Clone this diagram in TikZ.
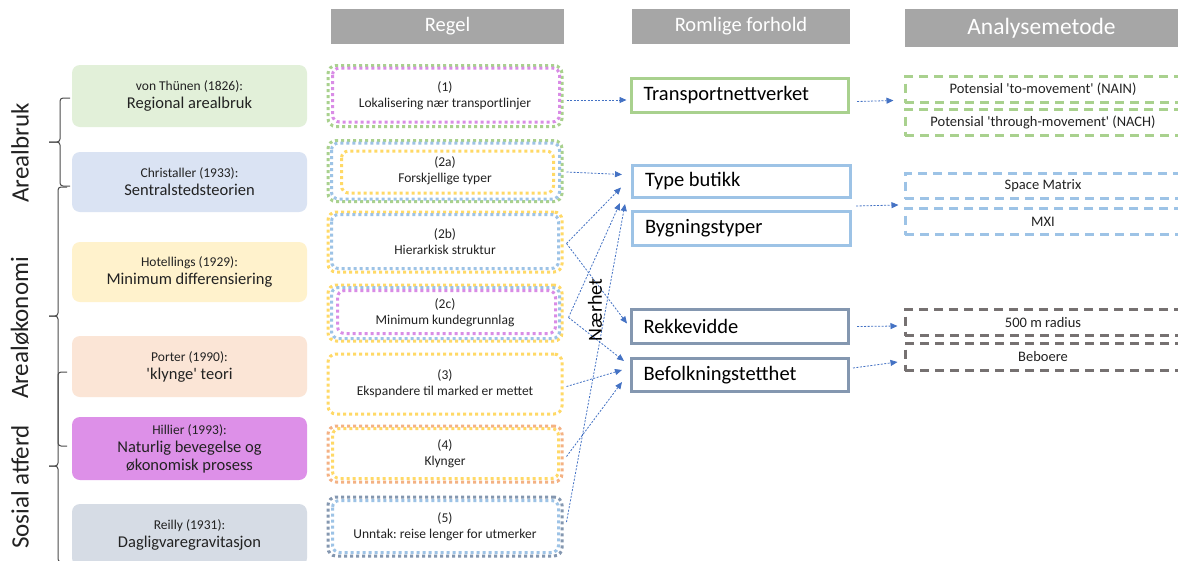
\documentclass[tikz,border=0pt]{standalone}
\usepackage{fontspec}
\setmainfont{Carlito}
\usetikzlibrary{arrows.meta}
\definecolor{hdr}{HTML}{A6A6A6}
\definecolor{cgreen}{HTML}{A9D18E}
\definecolor{cblue}{HTML}{9DC3E6}
\definecolor{cyellow}{HTML}{FFD966}
\definecolor{corange}{HTML}{F4B183}
\definecolor{cmag}{HTML}{D98CE6}
\definecolor{cslate}{HTML}{8497B0}
\definecolor{cgray}{HTML}{767171}
\definecolor{fgreen}{HTML}{E2F0D9}
\definecolor{fblue}{HTML}{DAE3F3}
\definecolor{fyellow}{HTML}{FFF2CC}
\definecolor{forange}{HTML}{FBE5D6}
\definecolor{fmag}{HTML}{DD90E8}
\definecolor{fslate}{HTML}{D6DCE5}
\definecolor{arrowc}{HTML}{4472C4}
\definecolor{txt}{HTML}{222222}
\newcommand{\myfs}[2]{\fontsize{#1}{#2}\selectfont}
\newcommand{\sq}{\textquotesingle}
\newcommand{\rbx}[1]{\hbox to 193pt{#1\hfil}}
\frenchspacing
\begin{document}
\begin{tikzpicture}[x=1pt,y=-1pt,
  hdrbox/.style={fill=hdr, text=white, inner sep=0pt},
  theory/.style={rounded corners=8pt, minimum width=235pt, inner sep=0pt, align=center, text=txt, font=\myfs{16.5}{18}},
  rulebox/.style={draw, rounded corners=8pt, line width=3pt, dash pattern=on 3pt off 3pt, minimum width=234pt, align=center, inner sep=0pt, font=\myfs{13.5}{16}, text=txt},
  inbox/.style={rounded corners=7pt, line width=3pt, dash pattern=on 3pt off 3pt},
  rombox/.style={draw, line width=3pt, minimum width=217pt, inner xsep=12pt, inner ysep=0pt, font=\myfs{20.5}{24}, text=black},
  anabox/.style={draw, line width=3pt, dash pattern=on 9pt off 6pt, minimum width=276pt, inner sep=0pt, font=\myfs{14.5}{17}, text=txt},
  arr/.style={draw=arrowc, line width=0.8pt, dash pattern=on 2pt off 1.5pt, -{Triangle[length=7pt,width=6pt]}},
  bracepath/.style={draw=black!70, line width=1pt, rounded corners=3pt},
  side/.style={rotate=90, font=\myfs{25}{30}, text=txt}
]
\useasboundingbox (0,0) rectangle (1178,560);
\clip (0,0) rectangle (1178,560);
\fill[white] (0,0) rectangle (1178,560);

% headers
\node[hdrbox, minimum width=233pt, minimum height=35pt, font=\myfs{20.5}{24}] (hreg) at (447.5,26.5) {Regel};
\node[hdrbox, minimum width=218pt, minimum height=35pt, font=\myfs{20.5}{24}] (hrom) at (741,26.5) {Romlige forhold};
\node[hdrbox, minimum width=273pt, minimum height=38pt, font=\myfs{23.5}{27}] (hana) at (1041.5,28) {Analysemetode};

% theory boxes
\node[theory, fill=fgreen, minimum height=62pt] (t1) at (189.5,96) {{\myfs{13.5}{16}von Thünen (1826):}\\Regional arealbruk};
\node[theory, fill=fblue, minimum height=60pt] (t2) at (189.5,182) {{\myfs{13.5}{16}Christaller (1933):}\\Sentralstedsteorien};
\node[theory, fill=fyellow, minimum height=60pt] (t3) at (189.5,272) {{\myfs{13.5}{16}Hotellings (1929):}\\Minimum differensiering};
\node[theory, fill=forange, minimum height=61pt] (t4) at (189.5,366.5) {{\myfs{13.5}{16}Porter (1990):}\\\sq klynge\sq{} teori};
\node[theory, fill=fmag, minimum height=63pt] (t5) at (189.5,448.5) {{\myfs{13.5}{16}Hillier (1993):}\\Naturlig bevegelse og\\økonomisk prosess};
\node[theory, fill=fslate, minimum height=62pt] (t6) at (189.5,535) {{\myfs{13.5}{16}Reilly (1931):}\\Dagligvaregravitasjon};

% braces
\draw[bracepath] (70,98) -- (60,98) -- (60,142) -- (49,142);
\draw[bracepath] (49,142) -- (60,142) -- (60,186) -- (70,186);
\draw[bracepath] (67,187) -- (58,187) -- (58,316) -- (49,316);
\draw[bracepath] (49,316) -- (58,316) -- (58,446) -- (67,446);
\draw[bracepath] (67,372) -- (58,372) -- (58,466) -- (49,466);
\draw[bracepath] (49,466) -- (58,466) -- (58,562) -- (67,562);

\node[side] (s1) at (20,153) {Arealbruk};
\node[side] (s2) at (20,328) {Arealøkonomi};
\node[side] (s3) at (20,487) {Sosial atferd};

% rule boxes
\node[rulebox, draw=cgreen, minimum height=61pt] (r1) at (445,96) {(1)\\Lokalisering nær transportlinjer};
\draw[inbox, draw=cmag] ([shift={(6,4)}]r1.north west) rectangle ([shift={(-4,-6)}]r1.south east);
\node[rulebox, draw=cgreen, minimum height=61pt] (r2a) at (445,171) {(2a)\\Forskjellige typer};
\draw[inbox, draw=cblue] ([shift={(5,4)}]r2a.north west) rectangle ([shift={(-4,-4)}]r2a.south east);
\draw[inbox, draw=cyellow] ([shift={(15,12)}]r2a.north west) rectangle ([shift={(-10,-10)}]r2a.south east);
\node[rulebox, draw=cyellow, minimum height=60pt] (r2b) at (445,242) {(2b)\\Hierarkisk struktur};
\draw[inbox, draw=cblue] ([shift={(5,4)}]r2b.north west) rectangle ([shift={(-5,-5)}]r2b.south east);
\node[rulebox, draw=cyellow, minimum height=56pt] (r2c) at (445,313) {(2c)\\Minimum kundegrunnlag};
\draw[inbox, draw=cblue] ([shift={(5,4)}]r2c.north west) rectangle ([shift={(-4,-4)}]r2c.south east);
\draw[inbox, draw=cmag] ([shift={(11,7)}]r2c.north west) rectangle ([shift={(-8,-9)}]r2c.south east);
\node[rulebox, draw=cyellow, minimum height=60pt] (r3) at (445,384) {(3)\\Ekspandere til marked er mettet};
\node[rulebox, draw=corange, minimum height=56pt] (r4) at (445,454) {(4)\\Klynger};
\draw[inbox, draw=cyellow] ([shift={(6,4)}]r4.north west) rectangle ([shift={(-5,-5)}]r4.south east);
\node[rulebox, draw=cslate, minimum height=59pt] (r5) at (445,526.5) {(5)\\Unntak: reise lenger for utmerker};
\draw[inbox, draw=cblue] ([shift={(6,5)}]r5.north west) rectangle ([shift={(-5,-5)}]r5.south east);

% spatial boxes
\node[rombox, draw=cgreen, minimum height=34pt] (tn) at (740,95.5) {\rbx{Transportnettverket}};
\node[rombox, draw=cblue, minimum height=32pt, minimum width=218pt] (tb) at (741.5,181.5) {\rbx{Type butikk}};
\node[rombox, draw=cblue, minimum height=34pt, minimum width=218pt] (by) at (741.5,228.5) {\rbx{Bygningstyper}};
\node[rombox, draw=cslate, minimum height=34pt] (rek) at (740,326.5) {\rbx{Rekkevidde}};
\node[rombox, draw=cslate, minimum height=33pt] (bef) at (740,375) {\rbx{Befolkningstetthet}};

% analysis boxes
\node[anabox, draw=cgreen, minimum height=26pt] (nain) at (1043,89.5) {Potensial \sq to-movement\sq{} (NAIN)};
\node[anabox, draw=cgreen, minimum height=26pt] (nach) at (1043,122.5) {Potensial \sq through-movement\sq{} (NACH)};
\node[anabox, draw=cblue, minimum height=25pt] (sm) at (1043,186) {Space Matrix};
\node[anabox, draw=cblue, minimum height=26pt] (mxi) at (1043,221.5) {MXI};
\node[anabox, draw=cgray, minimum height=26pt] (rad) at (1043,322.5) {500 m radius};
\node[anabox, draw=cgray, minimum height=27pt] (beb) at (1043,357) {Beboere};

% arrows
\draw[arr] ([shift={(3,4)}]r1.east) -- ([shift={(-3.5,4.5)}]tn.west);
\draw[arr] ([shift={(7,6)}]tn.east) -- ([shift={(-10,11)}]nain.west);
\draw[arr] ([shift={(3,1)}]r2a.east) -- ([shift={(-9,-7)}]tb.west);
\draw[arr] ([shift={(3,1.5)}]r2b.east) -- ([shift={(-10,6)}]tb.west);
\draw[arr] ([shift={(3,1.5)}]r2b.east) -- ([shift={(-3,-3)}]rek.west);
\draw[arr] ([shift={(5,4.5)}]r2c.east) -- ([shift={(-11,4)}]tb.south west);
\draw[arr] ([shift={(5,4.5)}]r2c.east) -- ([shift={(-6,-14)}]bef.west);
\draw[arr] ([shift={(3,2.5)}]r3.east) -- ([shift={(-8,-5)}]bef.west);
\draw[arr] ([shift={(3,2.5)}]r4.east) -- ([shift={(-8,7)}]bef.west);
\draw[arr] ([shift={(3,-4.5)}]r5.east) -- ([shift={(-6,5)}]tb.south west);
\draw[arr] ([shift={(4,7)}]tb.south east) -- ([shift={(-5,19)}]sm.west);
\draw[arr] ([shift={(7,0)}]rek.east) -- ([shift={(-6,3.5)}]rad.west);
\draw[arr] ([shift={(3,-7)}]bef.east) -- ([shift={(-6,5)}]beb.west);

\node[rotate=90, font=\myfs{20}{24}, text=black] (naer) at (595,310) {Nærhet};
\end{tikzpicture}
\end{document}
